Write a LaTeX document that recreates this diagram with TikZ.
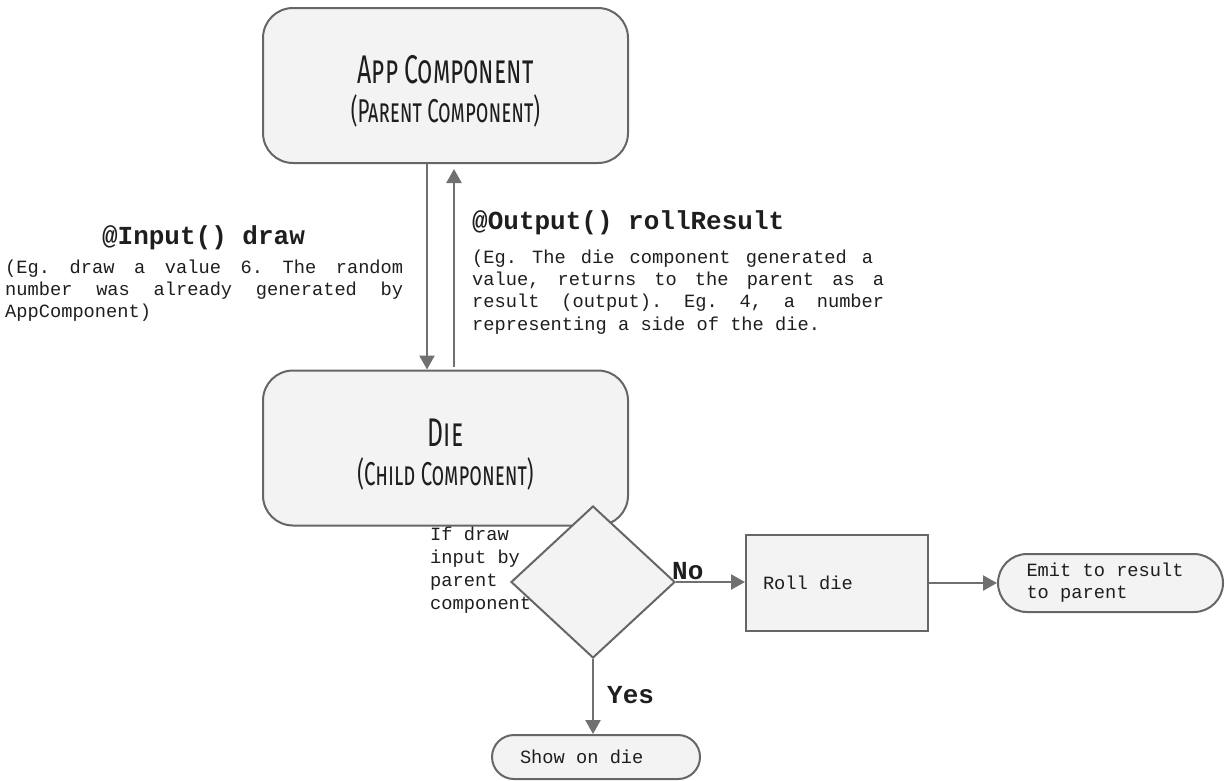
\documentclass[tikz,border=0pt]{standalone}
\usepackage{fontspec}
\usetikzlibrary{arrows.meta,shapes.geometric,shapes.misc,calc}
\newfontfamily\mono{Liberation Mono}
\newfontfamily\hand[Letters=SmallCaps,FakeStretch=0.62]{Fira Sans}
\newcommand\monofont{\mono\fontsize{18.7}{22.3}\selectfont\frenchspacing}
\newcommand\jline[2]{\makebox[#1][s]{\spaceskip=11.22pt plus 1fil\relax #2}}
\definecolor{boxfill}{HTML}{F3F3F3}
\definecolor{edge}{HTML}{666666}
\definecolor{arrowc}{HTML}{707070}
\definecolor{ink}{HTML}{1E1E1E}
\begin{document}
\frenchspacing
\begin{tikzpicture}[x=1pt,y=-1pt,
 comp/.style={rectangle,draw=edge,line width=2pt,fill=boxfill,rounded corners=30pt,minimum width=365pt,minimum height=155pt,inner sep=0pt,align=center,font=\hand\fontsize{33}{39}\selectfont,text=ink},
 decision/.style={diamond,draw=edge,line width=2pt,fill=boxfill,minimum width=164pt,minimum height=152pt,inner sep=0pt},
 process/.style={rectangle,draw=edge,line width=2pt,fill=boxfill,minimum width=182pt,minimum height=96pt,inner sep=0pt,font=\monofont,align=left,text=ink},
 terminal/.style={rounded rectangle,draw=edge,line width=2pt,fill=boxfill,inner sep=0pt,font=\monofont,align=left,text=ink},
 arr/.style={draw=arrowc,line width=2.5pt,-{Triangle[length=14pt,width=15pt]}},
 txt/.style={inner sep=0pt,font=\monofont,align=left,text=ink},
 ttl/.style={inner sep=0pt,font=\mono\bfseries\fontsize{26}{30}\selectfont,text=ink}]
\useasboundingbox (0,0) rectangle (1225,780);

\node[comp] (app) at (445.5,85.5) {\rule{0pt}{39pt}{\fontsize{40}{40}\selectfont App Component}\\(Parent Component)};
\node[comp] (die) at (445.5,448) {\rule{0pt}{41pt}{\fontsize{40}{40}\selectfont Die}\\(Child Component)};

\draw[arr] ($(app.south)+(-18.5,0)$) -- ($(die.north)+(-18.5,0)$);
\draw[arr] ($(die.north)+(8.5,-3)$) -- ($(app.south)+(8.5,5)$);

\node[ttl,anchor=base] (intitle) at (203.5,244) {@Input() draw};
\node[txt,anchor=north west] (intext) at (5,257.4) {\strut\jline{398pt}{(Eg. draw a value 6. The random}\\\jline{398pt}{number was already generated by}\\AppComponent)};

\node[ttl,anchor=base west] (outtitle) at (472,229) {@Output() rollResult};
\node[txt,anchor=north west] (outtext) at (472,247.4) {\strut\jline{401pt}{(Eg. The die component generated a}\\\jline{412pt}{value, returns to the parent as a}\\\jline{412pt}{result (output). Eg. 4, a number}\\representing a side of the die.};

\node[decision] (dec) at (593,582) {};
\node[txt,anchor=north west,font=\mono\fontsize{18.7}{23.2}\selectfont] (cond) at (430,523.8) {\strut If draw\\input by\\parent\\component};

\node[process] (roll) at (837,583) {\makebox[148pt][l]{Roll die}};
\node[terminal,minimum width=225pt,minimum height=58pt] (emit) at (1110.5,583) {\makebox[168pt][l]{Emit to result}\\to parent};
\node[terminal,minimum width=208pt,minimum height=44pt] (show) at (596,757) {\makebox[152pt][l]{Show on die}};

\draw[arr] (dec.east) -- (dec.east -| roll.west);
\draw[arr] (roll.east) -- (roll.east -| emit.west);
\draw[arr] (dec.south) -- (dec.south |- show.north);

\node[ttl,anchor=base west] (no) at (672,579) {No};
\node[ttl,anchor=base west] (yes) at (607,703) {Yes};
\end{tikzpicture}
\end{document}
